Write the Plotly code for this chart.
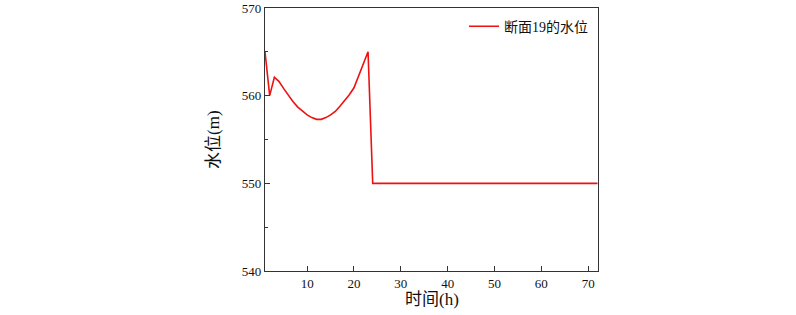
import plotly.graph_objects as go

hours = list(range(1, 73))
level_head = [565.0, 560.0, 562.1, 561.6, 560.8, 560.0, 559.3, 558.7, 558.2, 557.8,
              557.5, 557.3, 557.3, 557.5, 557.8, 558.2, 558.8, 559.4, 560.1, 560.9,
              562.2, 563.6, 565.0]
level_tail = [550.0] * (72 - 23)
levels = level_head + level_tail

series_name = "断面19的水位"
x_title = "时间(h)"
y_title = "水位(m)"
x_ticks = [10, 20, 30, 40, 50, 60, 70]
y_ticks = [540, 550, 560, 570]

font_family = "Liberation Serif, Times New Roman, Noto Sans CJK SC, serif"

fig = go.Figure()
fig.add_trace(go.Scatter(x=hours, y=levels, mode="lines", name=series_name,
                         line=dict(color="#ee1111", width=1.6)))

axis_common = dict(showgrid=False, zeroline=False, showline=True, linecolor="#333333",
                   linewidth=1.3, mirror=True, ticks="inside", ticklen=5,
                   tickcolor="#333333", tickwidth=1.2, automargin=False,
                   tickfont=dict(family=font_family, size=13, color="#111111"))

fig.update_xaxes(range=[1, 72.1], tickvals=x_ticks,
                 minor=dict(ticks="", showgrid=False), **axis_common)
fig.update_yaxes(range=[540, 570], tickvals=y_ticks,
                 minor=dict(ticks="inside", ticklen=3, dtick=5, tickcolor="#333333",
                            tickwidth=1, showgrid=False),
                 **axis_common)

fig.add_annotation(text=x_title, xref="paper", yref="paper", x=0.5, y=-0.065,
                   xanchor="center", yanchor="top", showarrow=False,
                   font=dict(family=font_family, size=17, color="#111111"))
fig.add_annotation(text=y_title, xref="paper", yref="paper", x=-0.155, y=0.5,
                   xanchor="center", yanchor="middle", showarrow=False, textangle=-90,
                   font=dict(family=font_family, size=17, color="#111111"))

fig.update_layout(
    width=796, height=315,
    margin=dict(l=265, r=198, t=8, b=44, autoexpand=False),
    plot_bgcolor="white", paper_bgcolor="white",
    showlegend=True,
    legend=dict(x=0.985, y=0.99, xanchor="right", yanchor="top",
                bgcolor="rgba(0,0,0,0)", borderwidth=0,
                font=dict(family=font_family, size=14, color="#111111"),
                itemwidth=30),
)

fig.write_html("out.html", config={"displayModeBar": False},
               post_script="document.body.style.margin='0';document.body.style.overflow='hidden';")
